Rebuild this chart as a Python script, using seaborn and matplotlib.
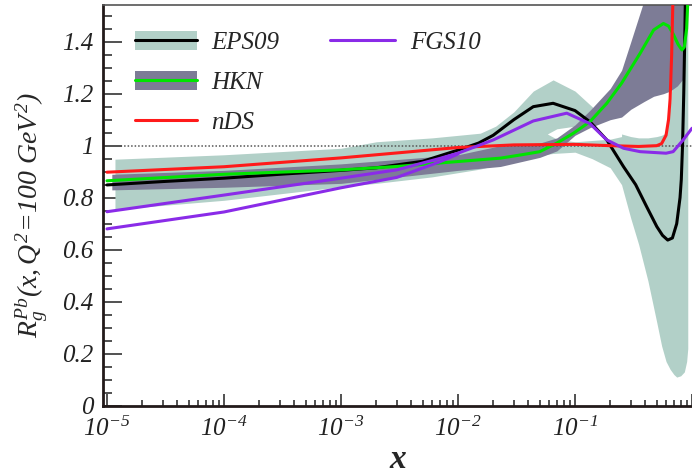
import numpy as np
import matplotlib
matplotlib.use("Agg")
import matplotlib.pyplot as plt
import matplotlib.ticker as mticker
from matplotlib.patches import Patch
from matplotlib.lines import Line2D
import seaborn as sns

# EPS09 central curve and its error band
eps_x = [1e-5, 3e-5, 1e-4, 3e-4, 1e-3, 2e-3, 5e-3, 1e-2, 0.015, 0.02, 0.03, 0.044, 0.065, 0.1,
         0.134, 0.187, 0.26, 0.33, 0.41, 0.5, 0.56, 0.62, 0.68, 0.74, 0.79, 0.81, 0.83, 0.85, 0.87, 0.88]
eps_y = [0.849, 0.862, 0.875, 0.89, 0.905, 0.915, 0.94, 0.983, 1.01, 1.04, 1.10, 1.15, 1.163, 1.135,
         1.092, 1.022, 0.919, 0.85, 0.765, 0.689, 0.655, 0.637, 0.645, 0.70, 0.80, 0.87, 1.0, 1.2, 1.45, 1.6]

eps_band_x = [1.17e-5, 1e-4, 1e-3, 2e-3, 6e-3, 0.0155, 0.021, 0.03, 0.044, 0.065, 0.1, 0.14, 0.2, 0.25,
              0.3, 0.35, 0.42, 0.5, 0.55, 0.6, 0.65, 0.7, 0.74, 0.8, 0.86, 0.9, 0.92]
eps_band_hi = [0.948, 0.965, 0.99, 1.015, 1.03, 1.048, 1.075, 1.13, 1.21, 1.253, 1.21, 1.15, 1.08, 1.045,
               1.035, 1.03, 1.03, 1.035, 1.04, 1.05, 1.15, 1.3, 1.4, 1.55, 1.7, 1.8, 1.8]
eps_band_lo = [0.755, 0.79, 0.842, 0.855, 0.88, 0.91, 0.925, 0.945, 0.96, 0.97, 0.975, 0.95, 0.915, 0.85,
               0.72, 0.62, 0.48, 0.32, 0.23, 0.17, 0.14, 0.12, 0.11, 0.115, 0.13, 0.17, 0.22]

# empty channel inside the EPS09 band
gap_x = [0.058, 0.07, 0.1, 0.14, 0.2, 0.25]
gap_lo = [1.045, 1.025, 1.015, 1.02, 1.025, 1.035]
gap_hi = [1.045, 1.065, 1.075, 1.085, 1.1, 1.12]

# HKN central curve and band
hkn_x = [1e-5, 1e-4, 1e-3, 3e-3, 1e-2, 0.023, 0.035, 0.05, 0.07, 0.097, 0.134, 0.187, 0.25, 0.36,
         0.47, 0.57, 0.63, 0.69, 0.76, 0.82, 0.86, 0.9, 0.93]
hkn_y = [0.865, 0.89, 0.907, 0.92, 0.939, 0.952, 0.965, 0.977, 1.01, 1.048, 1.092, 1.163, 1.24, 1.355,
         1.445, 1.47, 1.46, 1.43, 1.39, 1.368, 1.38, 1.45, 1.6]

hkn_band_x = [1.1e-5, 1e-4, 1e-3, 1e-2, 0.023, 0.05, 0.07, 0.1, 0.135, 0.2, 0.25, 0.3, 0.39, 0.47,
              0.57, 0.65, 0.75, 0.85, 0.87]
hkn_band_hi = [0.89, 0.905, 0.93, 0.965, 1.0, 1.01, 1.03, 1.08, 1.137, 1.22, 1.29, 1.4, 1.56, 1.7,
               1.8, 1.85, 1.9, 1.9, 1.9]
hkn_band_lo = [0.83, 0.84, 0.855, 0.905, 0.92, 0.955, 0.98, 1.04, 1.07, 1.1, 1.11, 1.14, 1.17, 1.19,
               1.2, 1.21, 1.23, 1.26, 1.6]

# nDS
nds_x = [1e-5, 1e-4, 1e-3, 3e-3, 1e-2, 0.03, 0.1, 0.2, 0.35, 0.5, 0.55, 0.6, 0.63, 0.65, 0.67, 0.69]
nds_y = [0.898, 0.919, 0.953, 0.972, 0.993, 1.003, 1.005, 1.0, 0.997, 1.0, 1.008, 1.04, 1.1, 1.18, 1.35, 1.6]

# FGS10 (two variants, merging near x = 0.01)
fgs_x = [1e-5, 1e-4, 1e-3, 3e-3, 7e-3, 1e-2, 0.02, 0.044, 0.085, 0.134, 0.187, 0.26, 0.36, 0.6, 0.69, 0.84, 1.0]
fgs_y = [0.746, 0.81, 0.875, 0.907, 0.951, 0.971, 1.022, 1.095, 1.125, 1.085, 1.022, 0.99, 0.977, 0.971,
         0.977, 1.022, 1.067]
fgs2_x = [1e-5, 1e-4, 1e-3, 3e-3, 7e-3, 1e-2]
fgs2_y = [0.68, 0.745, 0.838, 0.878, 0.938, 0.968]

teal = "#b2d0c8"
slate = "#7d7c96"
green = "#00e400"
red = "#ff1a1a"
violet = "#8a2be8"

sns.set_style("ticks")
plt.rcParams["font.family"] = ["Liberation Serif", "DejaVu Serif"]
plt.rcParams["font.style"] = "italic"
plt.rcParams["mathtext.fontset"] = "custom"
plt.rcParams["mathtext.rm"] = "Liberation Serif:italic"
plt.rcParams["mathtext.it"] = "Liberation Serif:italic"
plt.rcParams["mathtext.bf"] = "Liberation Serif:bold:italic"

fig = plt.figure(figsize=(6.92, 4.74), dpi=100)
ax = fig.add_axes([103 / 692, 68.3 / 474, 590 / 692, 400.7 / 474])
ax.set_xscale("log")

ax.fill_between(eps_band_x, eps_band_lo, eps_band_hi, color=teal, lw=0, zorder=1)
ax.fill_between(gap_x, gap_lo, gap_hi, color="white", lw=0, zorder=1.5)
ax.fill_between(hkn_band_x, hkn_band_lo, hkn_band_hi, color=slate, lw=0, zorder=2)
ax.axhline(1.0, color="#555555", lw=1.1, ls=(0, (1, 1.3)), zorder=2.5)

sns.lineplot(x=eps_x, y=eps_y, ax=ax, color="black", lw=2.2, sort=False, estimator=None, zorder=3)
sns.lineplot(x=hkn_x, y=hkn_y, ax=ax, color=green, lw=2.2, sort=False, estimator=None, zorder=3)
sns.lineplot(x=nds_x, y=nds_y, ax=ax, color=red, lw=2.2, sort=False, estimator=None, zorder=3)
sns.lineplot(x=fgs_x, y=fgs_y, ax=ax, color=violet, lw=2.2, sort=False, estimator=None, zorder=3)
sns.lineplot(x=fgs2_x, y=fgs2_y, ax=ax, color=violet, lw=2.2, sort=False, estimator=None, zorder=3)

ax.set_xlim(10 ** -5.034, 10 ** 0.0085)
ax.set_ylim(0, 1.541)

ax.yaxis.set_major_locator(mticker.MultipleLocator(0.2))
ax.yaxis.set_minor_locator(mticker.MultipleLocator(0.05))
ax.yaxis.set_major_formatter(mticker.FuncFormatter(lambda v, p: "0" if abs(v) < 1e-9 else ("1" if abs(v - 1) < 1e-9 else f"{v:g}")))
ax.xaxis.set_major_locator(mticker.LogLocator(base=10, numticks=10))
ax.xaxis.set_minor_locator(mticker.LogLocator(base=10, subs=np.arange(2, 10), numticks=20))
ax.xaxis.set_major_formatter(mticker.FuncFormatter(lambda v, p: r"$10^{%d}$" % round(np.log10(v)) if v < 0.5 else ""))
ax.xaxis.set_minor_formatter(mticker.NullFormatter())

ax.tick_params(axis="both", which="both", direction="in", width=1.1, colors="#222222")
ax.tick_params(axis="y", which="major", length=13.5, pad=7, labelsize=18)
ax.tick_params(axis="y", which="minor", length=6.5)
ax.tick_params(axis="x", which="major", length=8.5, pad=8, labelsize=18)
ax.tick_params(axis="x", which="minor", length=4.3)

for s in ["bottom", "left"]:
    ax.spines[s].set_linewidth(2.0)
    ax.spines[s].set_color("#221a1a")
ax.spines["top"].set_linewidth(1.2)
ax.spines["top"].set_color("#555555")
ax.spines["right"].set_visible(False)

ax.set_ylabel(r"$R_{g}^{Pb}(x,Q^{2}\!=\!100\ GeV^{2})$", fontsize=20)
ax.yaxis.set_label_coords(-0.09, 0.475)
ax.set_xlabel("x", fontsize=24, fontstyle="italic", fontweight="bold", labelpad=2)

leg_font = {"family": "Liberation Serif", "style": "italic", "size": 18}
h_eps = (Patch(facecolor=teal, edgecolor="none"), Line2D([], [], color="black", lw=2.2))
h_hkn = (Patch(facecolor=slate, edgecolor="none"), Line2D([], [], color=green, lw=2.2))
h_nds = Line2D([], [], color=red, lw=2.2)
h_fgs = Line2D([], [], color=violet, lw=2.2)

leg1 = ax.legend([h_eps, h_hkn, h_nds], ["EPS09", "HKN", "nDS"], loc="upper left",
                 bbox_to_anchor=(0.054, 0.935), frameon=False, prop=leg_font,
                 handlelength=2.5, handleheight=0.8, labelspacing=0.66, handletextpad=0.55,
                 borderpad=0, borderaxespad=0)
ax.add_artist(leg1)
ax.legend([h_fgs], ["FGS10"], loc="upper left", bbox_to_anchor=(0.385, 0.935), frameon=False,
          prop=leg_font, handlelength=2.6, handleheight=0.8, handletextpad=0.6,
          borderpad=0, borderaxespad=0)

fig.savefig("out.png", dpi=100)
